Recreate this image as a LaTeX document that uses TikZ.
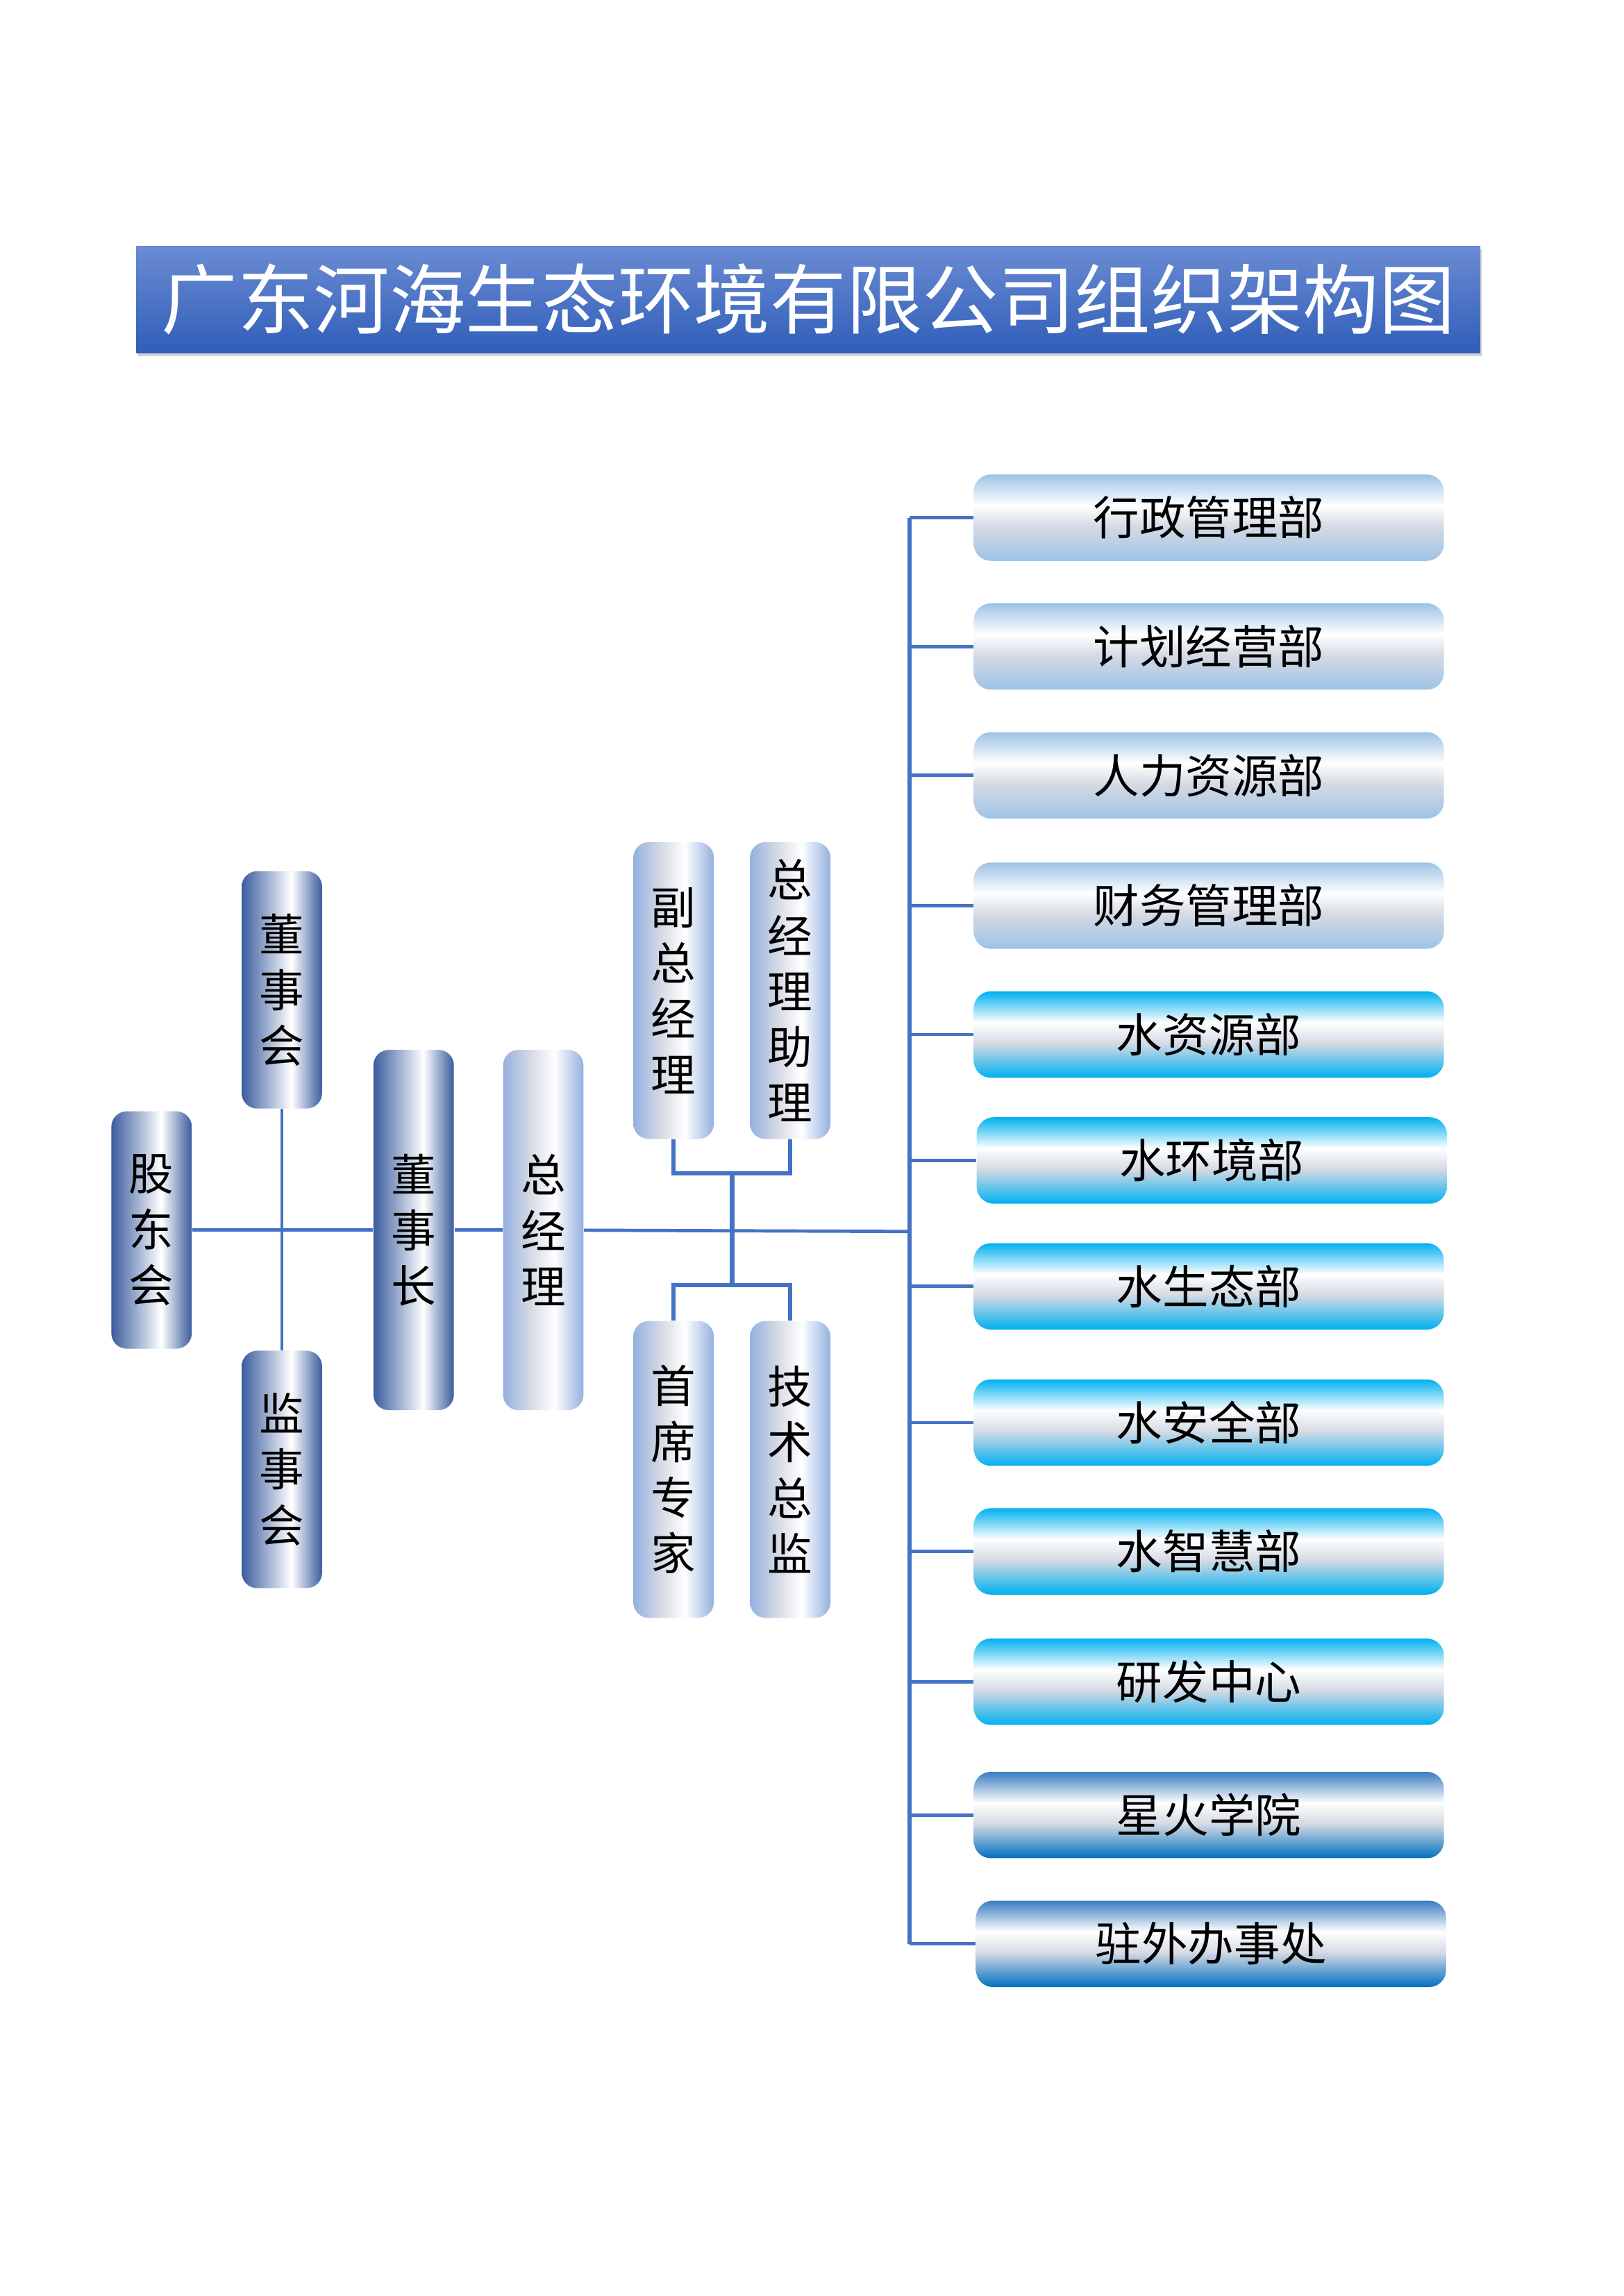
\documentclass[tikz,border=0pt]{standalone}
\usepackage{fontspec}
\newfontfamily\cjk{Noto Sans CJK SC}
\usepackage{tikz}
\usetikzlibrary{positioning, shadows}

\definecolor{linkblue}{HTML}{4472C4}
\definecolor{navy}{HTML}{3A5C9E}
\definecolor{paleblue}{HTML}{94B0E0}
\definecolor{skyblue}{HTML}{9DC3E6}
\definecolor{cyanblue}{HTML}{00B0F0}
\definecolor{deepblue}{HTML}{0070C0}
\definecolor{deeptop}{HTML}{3A7CC0}
\definecolor{mistgray}{HTML}{D5DAE4}
\definecolor{titletop}{HTML}{6B8BD3}
\definecolor{titlebot}{HTML}{2F5EB8}

% horizontal bands for the upright boxes
\pgfdeclarehorizontalshading{navybar}{100bp}{color(0bp)=(navy); color(25bp)=(navy); color(56bp)=(white); color(75bp)=(navy); color(100bp)=(navy)}
\pgfdeclarehorizontalshading{palebar}{100bp}{color(0bp)=(paleblue); color(25bp)=(paleblue); color(42bp)=(mistgray); color(57bp)=(white); color(75bp)=(paleblue); color(100bp)=(paleblue)}
% vertical bands for the departments
\pgfdeclareverticalshading{skybar}{100bp}{color(0bp)=(skyblue); color(25bp)=(skyblue); color(45bp)=(mistgray); color(57bp)=(white); color(75bp)=(skyblue); color(100bp)=(skyblue)}
\pgfdeclareverticalshading{cyanbar}{100bp}{color(0bp)=(cyanblue); color(25bp)=(cyanblue); color(45bp)=(mistgray); color(57bp)=(white); color(75bp)=(cyanblue); color(100bp)=(cyanblue)}
\pgfdeclareverticalshading{deepbar}{100bp}{color(0bp)=(deepblue); color(25bp)=(deepblue); color(45bp)=(mistgray); color(57bp)=(white); color(75bp)=(deeptop); color(100bp)=(deeptop)}

\begin{document}
\begin{tikzpicture}[
	x=0.018936cm, y=-0.018936cm,
	title/.style={rectangle, minimum width=17.38cm, minimum height=1.38cm, top color=titletop, bottom color=titlebot, drop shadow={shadow xshift=0.6pt, shadow yshift=-1.2pt, opacity=0.35}, text=white, font=\cjk\fontsize{28}{30}\selectfont},
	upright/.style={rectangle, rounded corners=0.2cm, minimum width=1.04cm, inner sep=0pt, align=center, shade, shading=navybar, font=\cjk\fontsize{16.5}{20.5}\selectfont},
	board/.style={upright, minimum height=3.07cm},
	chair/.style={upright, minimum height=4.66cm},
	ceo/.style={upright, shading=palebar, minimum height=4.66cm},
	aide/.style={upright, shading=palebar, minimum height=3.84cm},
	dept/.style={rectangle, rounded corners=0.22cm, minimum width=6.08cm, minimum height=1.117cm, shade, shading=skybar, font=\cjk\fontsize{17}{20}\selectfont},
	waterdept/.style={dept, shading=cyanbar},
	outdept/.style={dept, shading=deepbar},
	link/.style={draw=linkblue, line width=1.2pt},
	buslink/.style={draw=linkblue, line width=1.6pt}
]
\useasboundingbox (0,0) rectangle (1109,1568);

% Title
\node[title] (head) at (552,204.5) {广东河海生态环境有限公司组织架构图};

% Governance
\node[board] (gdh) at (103.5,840) {股\\东\\会};
\node[board] (dsh) at (192.5,676) {董\\事\\会};
\node[board] (jsh) at (192.5,1003.5) {监\\事\\会};
\node[chair] (dsz) at (282.5,840) {董\\事\\长};
\node[ceo] (zjl) at (371,840) {总\\经\\理};

% Management
\node[aide] (fzjl) at (460,676.5) {副\\总\\经\\理};
\node[aide] (zjlzl) [right=0.454cm of fzjl] {总\\经\\理\\助\\理};
\node[aide] (sxzj) at (460,1003.5) {首\\席\\专\\家};
\node[aide] (jszj) [right=0.454cm of sxzj] {技\\术\\总\\监};

% Departments
\node[dept] (xz) at (825.5,353.5) {行政管理部};
\node[dept] (jh) at (825.5,441.5) {计划经营部};
\node[dept] (rl) at (825.5,529.5) {人力资源部};
\node[dept] (cw) at (825.5,618.5) {财务管理部};
\node[waterdept] (szy) at (825.5,706.5) {水资源部};
\node[waterdept] (shj) at (827.5,792.5) {水环境部};
\node[waterdept] (sst) at (825.5,878.5) {水生态部};
\node[waterdept] (saq) at (825.5,971.5) {水安全部};
\node[waterdept] (szh) at (825.5,1059.5) {水智慧部};
\node[waterdept] (yf) at (825.5,1148.5) {研发中心};
\node[outdept] (xh) at (825.5,1239.5) {星火学院};
\node[outdept] (zw) at (827,1327.5) {驻外办事处};

% Main line
\coordinate (bus) at (621,841);
\coordinate (hub) at (500,841);
\draw[link] (dsh) -- (jsh);
\draw[link] (gdh) -- (dsz);
\draw[link] (dsz) -- (zjl);
\draw[link] (zjl) -- (bus);

% Management brackets
\coordinate (uphub) at (500,801);
\coordinate (lowhub) at (500,878);
\draw[buslink] (fzjl.south) -- ++(0,23) -| (zjlzl.south);
\draw[buslink] (sxzj.north) -- ++(0,-24) -| (jszj.north);
\draw[buslink] (uphub) -- (lowhub);

% Department bus
\draw[buslink] (bus |- xz.west) -- (bus |- zw.west);
\draw[link] (bus |- xz.west) -- (xz.west);
\draw[link] (bus |- jh.west) -- (jh.west);
\draw[link] (bus |- rl.west) -- (rl.west);
\draw[link] (bus |- cw.west) -- (cw.west);
\draw[link] (bus |- szy.west) -- (szy.west);
\draw[link] (bus |- shj.west) -- (shj.west);
\draw[link] (bus |- sst.west) -- (sst.west);
\draw[link] (bus |- saq.west) -- (saq.west);
\draw[link] (bus |- szh.west) -- (szh.west);
\draw[link] (bus |- yf.west) -- (yf.west);
\draw[link] (bus |- xh.west) -- (xh.west);
\draw[link] (bus |- zw.west) -- (zw.west);

\end{tikzpicture}
\end{document}
